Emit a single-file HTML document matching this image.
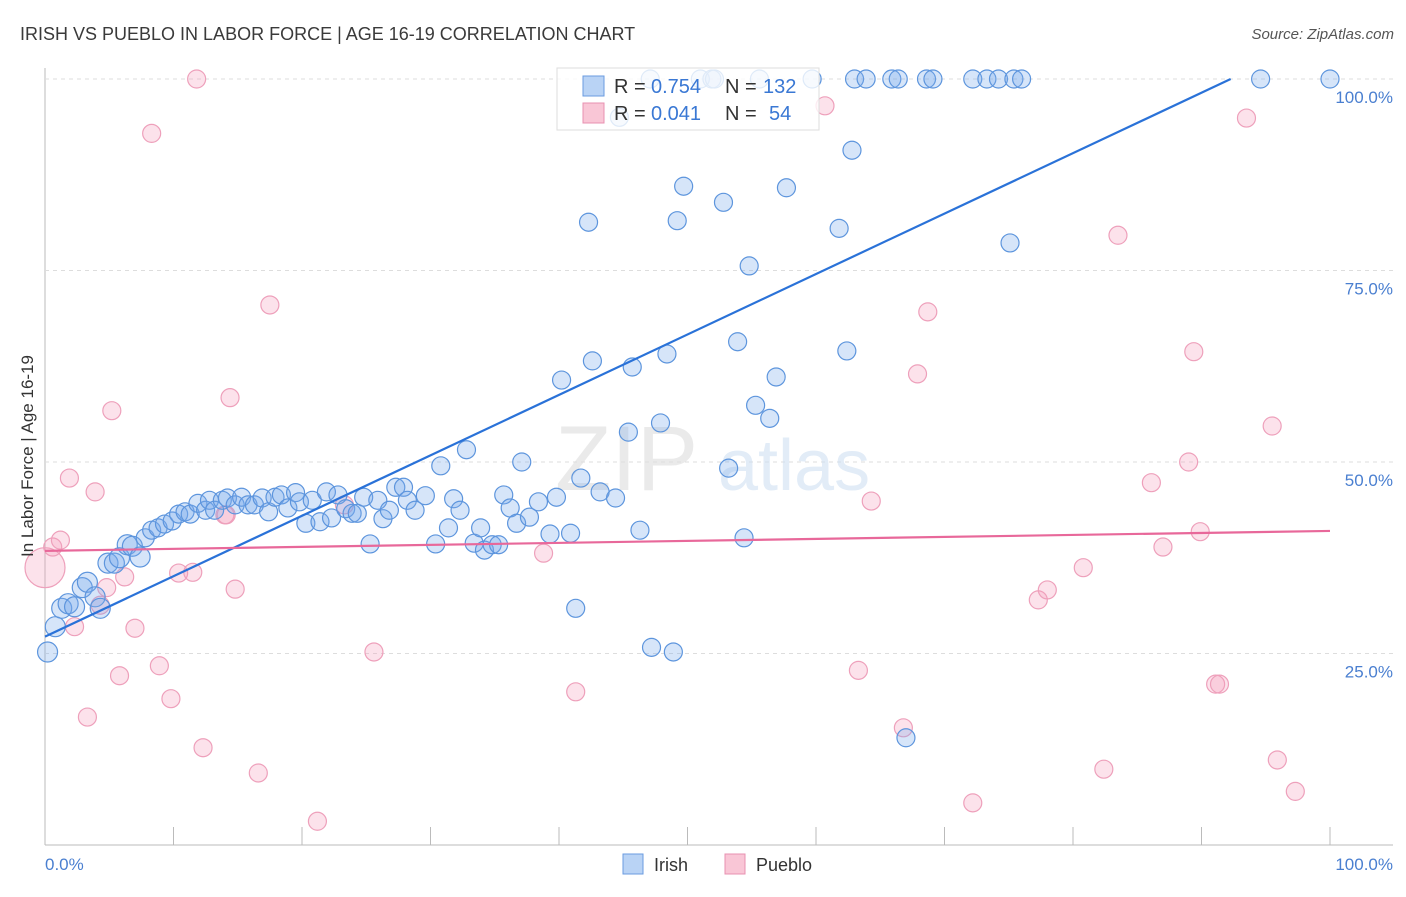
<!DOCTYPE html>
<html><head><meta charset="utf-8"><style>
body{margin:0;background:#fff;font-family:"Liberation Sans",sans-serif;}
svg text{font-family:"Liberation Sans",sans-serif;}
</style></head><body>
<svg id="chart" width="1406" height="892" viewBox="0 0 1406 892">
<text x="20" y="40" font-size="18" fill="#3a3a3a">IRISH VS PUEBLO IN LABOR FORCE | AGE 16-19 CORRELATION CHART</text>
<text x="1394" y="39" font-size="15" fill="#555" text-anchor="end" font-style="italic">Source: ZipAtlas.com</text>
<g id="grid"></g>
<text x="555" y="490" font-size="92" fill="#ddd" font-family="Liberation Serif" opacity="0.6">ZIP</text>
<text x="718" y="490" font-size="72" fill="#cfe0f3" opacity="0.6">atlas</text>
<g id="pts"></g>
<g id="lines"></g>
<text transform="translate(33,456) rotate(-90)" font-size="17" fill="#333" text-anchor="middle">In Labor Force | Age 16-19</text>
<text x="45" y="870" font-size="17" fill="#4a7fd0">0.0%</text>
<text x="1393" y="870" font-size="17" fill="#4a7fd0" text-anchor="end">100.0%</text>
<g>
<rect x="557" y="68" width="262" height="62" fill="#fff" fill-opacity="0.8" stroke="#ddd"/>
<rect x="583" y="76" width="21" height="20" fill="#b9d3f5" stroke="#6a9be0"/>
<rect x="583" y="103" width="21" height="20" fill="#f9c6d6" stroke="#e890b0"/>
<text x="614" y="93" font-size="20" fill="#333">R =</text>
<text x="651" y="93" font-size="20" fill="#3a78d4">0.754</text>
<text x="725" y="93" font-size="20" fill="#333">N =</text>
<text x="763" y="93" font-size="20" fill="#3a78d4">132</text>
<text x="614" y="120" font-size="20" fill="#333">R =</text>
<text x="651" y="120" font-size="20" fill="#3a78d4">0.041</text>
<text x="725" y="120" font-size="20" fill="#333">N =</text>
<text x="769" y="120" font-size="20" fill="#3a78d4">54</text>
</g>
<g><rect x="623" y="854" width="20" height="20" fill="#b9d3f5" stroke="#6a9be0"/><text x="654" y="871" font-size="18" fill="#333">Irish</text></g>
<g><rect x="725" y="854" width="20" height="20" fill="#f9c6d6" stroke="#e890b0"/><text x="756" y="871" font-size="18" fill="#333">Pueblo</text></g>
</svg>
<script>
const irishX=[0.2,0.8,1.3,1.8,2.3,2.9,3.3,3.9,4.3,4.9,5.4,5.8,6.4,6.8,7.4,7.8,8.3,8.8,9.3,9.9,10.4,10.9,11.3,11.9,12.5,12.8,13.2,13.8,14.2,14.8,15.3,15.8,16.3,16.9,17.4,17.9,18.4,18.9,19.5,19.8,20.3,20.8,21.4,21.9,22.3,22.8,23.4,23.9,24.3,24.8,25.3,25.9,26.3,26.8,27.3,27.9,28.2,28.8,29.6,30.4,30.8,31.4,31.8,32.3,32.8,33.4,33.9,34.2,34.8,35.3,35.7,36.2,36.7,37.1,37.7,38.4,39.3,39.8,40.2,40.9,41.3,41.7,42.3,42.6,43.2,44.4,45.4,45.7,46.3,47.2,47.9,48.4,48.9,49.2,49.7,52.8,53.2,53.9,54.4,54.8,55.3,56.4,56.9,57.7,61.8,62.4,62.8,67.0,75.1,94.6,100,63.0,63.9,65.9,66.4,68.6,69.1,72.2,73.3,74.2,75.4,76.0,47.1,51.0,51.9,52.1,55.6,59.7,44.7];
const irishY=[25.2,28.5,30.9,31.5,31.1,33.6,34.3,32.4,30.9,36.8,36.8,37.5,39.2,39.0,37.6,40.1,41.1,41.4,41.9,42.3,43.2,43.5,43.2,44.6,43.7,45.0,43.7,45.0,45.3,44.4,45.4,44.4,44.4,45.3,43.5,45.4,45.7,44.0,46.0,44.8,42.0,45.0,42.2,46.1,42.7,45.7,43.9,43.3,43.3,45.4,39.3,45.0,42.6,43.7,46.7,46.7,45.0,43.7,45.6,39.3,49.5,41.4,45.2,43.7,51.6,39.4,41.4,38.5,39.2,39.2,45.7,44.0,42.0,50.0,42.8,44.8,40.6,45.4,60.7,40.7,30.9,47.9,81.3,63.2,46.1,45.3,53.9,62.4,41.1,25.8,55.1,64.1,25.2,81.5,86.0,83.9,49.2,65.7,40.1,75.6,57.4,55.7,61.1,85.8,80.5,64.5,90.7,14.0,78.6,100,100,100,100,100,100,100,100,100,100,100,100,100,100,100,100,100,100,100,95.0];
const puebloX=[0,0.6,1.2,1.9,2.3,3.3,3.9,4.3,4.8,5.2,5.8,6.2,7.0,8.3,8.9,9.8,10.4,11.5,11.8,12.3,14.0,14.4,14.8,16.6,17.5,21.2,23.3,25.6,38.8,41.3,60.7,63.3,64.3,66.8,67.9,68.7,72.2,77.3,78.0,80.8,82.4,83.5,86.1,87.0,89.0,89.4,89.9,91.1,91.4,93.5,95.5,95.9,97.3,14.1];
const puebloY=[36.2,38.9,39.8,47.9,28.5,16.7,46.1,31.3,33.6,56.7,22.1,35.0,28.3,92.9,23.4,19.1,35.5,35.6,100,12.7,43.1,58.4,33.4,9.4,70.5,3.1,44.4,25.2,38.1,20.0,96.5,22.8,44.9,15.3,61.5,69.6,5.5,32.0,33.3,36.2,9.9,79.6,47.3,38.9,50.0,64.4,40.9,21.0,21.0,94.9,54.7,11.1,7.0,43.1];
const yTicks=[25,50,75,100];
const xTicks=[0,10,20,30,40,50,60,70,80,90,100];
const irishTrend=[27.2,106.1];
const puebloTrend=[38.4,41.0];
const X=v=>45+v*12.85, Y=v=>845-v*7.66;
const NS='http://www.w3.org/2000/svg';
function mk(t,a,p){const e=document.createElementNS(NS,t);for(const k in a)e.setAttribute(k,a[k]);p.appendChild(e);return e;}
const grid=document.getElementById('grid');
mk('line',{x1:45,y1:68,x2:45,y2:845,stroke:'#bbb'},grid);
mk('line',{x1:45,y1:845,x2:1393,y2:845,stroke:'#bbb'},grid);
yTicks.forEach(t=>{
 const l=mk('line',{x1:45,y1:Y(t),x2:1393,y2:Y(t),stroke:'#ddd','stroke-dasharray':'4,4'},grid);
 
 
 const tx=mk('text',{x:1393,y:Y(t)+24,'font-size':17,fill:'#4a7fd0','text-anchor':'end'},grid);
 tx.textContent=t.toFixed(1)+'%';
 
 
});
xTicks.forEach(t=>{
 const l=mk('line',{x1:X(t),y1:827,x2:X(t),y2:845,stroke:'#bbb'},grid);
 
 
});
const pts=document.getElementById('pts');
puebloX.forEach((x,i)=>{
 const c=mk('circle',{cx:X(x),cy:Y(puebloY[i]),r:i===0?20:9,fill:'rgba(244,160,188,0.3)',stroke:'#eea0bb','stroke-width':1.2},pts);
 
 
});
irishX.forEach((x,i)=>{
 const c=mk('circle',{cx:X(x),cy:Y(irishY[i]),r:i<15?10:9,fill:'rgba(120,170,235,0.3)',stroke:'#5d95dd','stroke-width':1.2},pts);
 
 
});
const lines=document.getElementById('lines');
const xe=(100-irishTrend[0])/(irishTrend[1]-irishTrend[0])*100;
const l1=mk('line',{x1:X(0),y1:Y(irishTrend[0]),x2:X(xe),y2:Y(100),stroke:'#2a72d8','stroke-width':2.2},lines);


const l2=mk('line',{x1:X(0),y1:Y(puebloTrend[0]),x2:X(100),y2:Y(puebloTrend[1]),stroke:'#e8689a','stroke-width':2.2},lines);


</script>
</body></html>
